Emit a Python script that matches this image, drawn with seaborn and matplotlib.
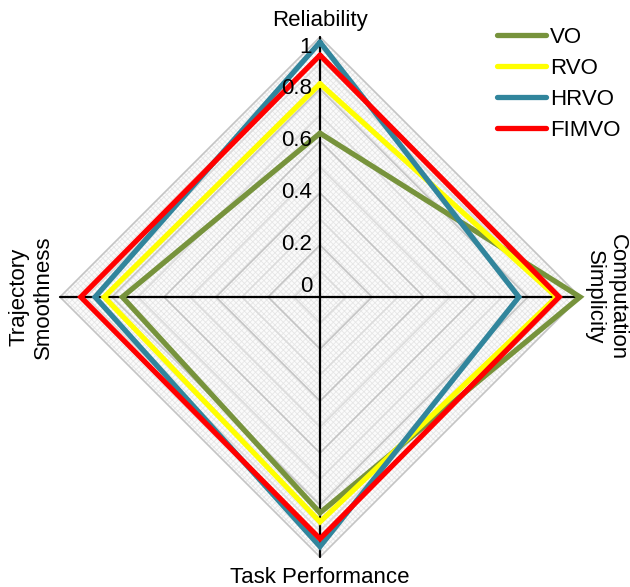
import numpy as np
import pandas as pd
import matplotlib
matplotlib.use("Agg")
import matplotlib.pyplot as plt
import seaborn as sns
from matplotlib.lines import Line2D

sns.set_style("white")
plt.rcParams['font.family'] = ['Liberation Sans', 'DejaVu Sans']
plt.rcParams['text.color'] = 'black'
plt.rcParams['hatch.linewidth'] = 0.6

# chart data
criteria = ['Reliability', 'Computation\nSimplicity', 'Task Performance', 'Trajectory\nSmoothness']
methods = ['VO', 'RVO', 'HRVO', 'FIMVO']
vo = [0.63, 1.00, 0.83, 0.76]
rvo = [0.82, 0.91, 0.865, 0.83]
hrvo = [0.98, 0.765, 0.96, 0.865]
fimvo = [0.93, 0.92, 0.93, 0.92]
ticks = [0, 0.2, 0.4, 0.6, 0.8, 1]
colors = ['#77933C', '#FFFF00', '#31859C', '#FF0000']

# clockwise from top
theta = np.deg2rad([0, 90, 180, 270])
sx, sy = np.sin(theta), np.cos(theta)


def to_xy(vals):
    v = np.asarray(vals, dtype=float)
    x = np.append(v * sx, v[0] * sx[0])
    y = np.append(v * sy, v[0] * sy[0])
    return x, y


rows = []
for name, vals in zip(methods, [vo, rvo, hrvo, fimvo]):
    x, y = to_xy(vals)
    for i, (xi, yi) in enumerate(zip(x, y)):
        rows.append({'method': name, 'order': i, 'x': xi, 'y': yi})
df = pd.DataFrame(rows)

fig = plt.figure(figsize=(6.3, 5.87), dpi=100)
ax = fig.add_axes([0, 0, 1, 1])
ax.set_xlim(-320 / 260, 310 / 260)
ax.set_ylim(-290 / 260, 297 / 260)
ax.axis('off')

# hatched background
bx, by = to_xy([1, 1, 1, 1])
ax.fill(bx, by, facecolor='#fbfbfb', edgecolor='#e6e6e6', hatch='xxxxxx',
        linewidth=0, zorder=0)

# diamond gridlines
for g in np.arange(0.1, 1.01, 0.1):
    gx, gy = to_xy([g] * 4)
    major = abs(round(g * 10) % 2) == 0
    ax.plot(gx, gy, color='#c4c4c4' if major else '#dcdcdc',
            lw=1.2, zorder=1)

# spokes
ax.plot([-1, 1], [0, 0], color='black', lw=1.6, zorder=2)
ax.plot([0, 0], [-1, 1], color='black', lw=1.6, zorder=2)

sns.lineplot(data=df, x='x', y='y', hue='method', palette=colors,
             hue_order=methods, sort=False, estimator=None, units='method',
             linewidth=3.8, legend=False, ax=ax, zorder=3)
for ln in ax.get_lines()[-4:]:
    ln.set_solid_joinstyle('miter')
    ln.set_zorder(3)

# radial tick labels on top axis
for t in ticks:
    va = 'center'
    if t == 0:
        va = 'bottom'
    elif t == 1:
        va = 'top'
    ax.text(-0.03, t, f'{t:g}', ha='right', va=va, fontsize=16, zorder=4)

# category labels
ax.text(0, 1.065, criteria[0], ha='center', va='center', fontsize=16)
ax.text(1.10, 0, criteria[1], ha='center', va='center', fontsize=16,
        rotation=-90, linespacing=1.1)
ax.text(0, -1.077, criteria[2], ha='center', va='center', fontsize=16)
ax.text(-1.11, 0, criteria[3], ha='center', va='center', fontsize=16,
        rotation=90, linespacing=1.2)

handles = [Line2D([0], [0], color=c, lw=3.8) for c in colors]
ax.legend(handles, methods, loc='upper left', frameon=False, fontsize=16,
          bbox_to_anchor=(497 / 630, 1 - 27 / 587),
          bbox_transform=fig.transFigure, borderpad=0, borderaxespad=0,
          handlelength=2.2, handletextpad=0.2, labelspacing=0.45)

plt.savefig('out.png', dpi=100)
